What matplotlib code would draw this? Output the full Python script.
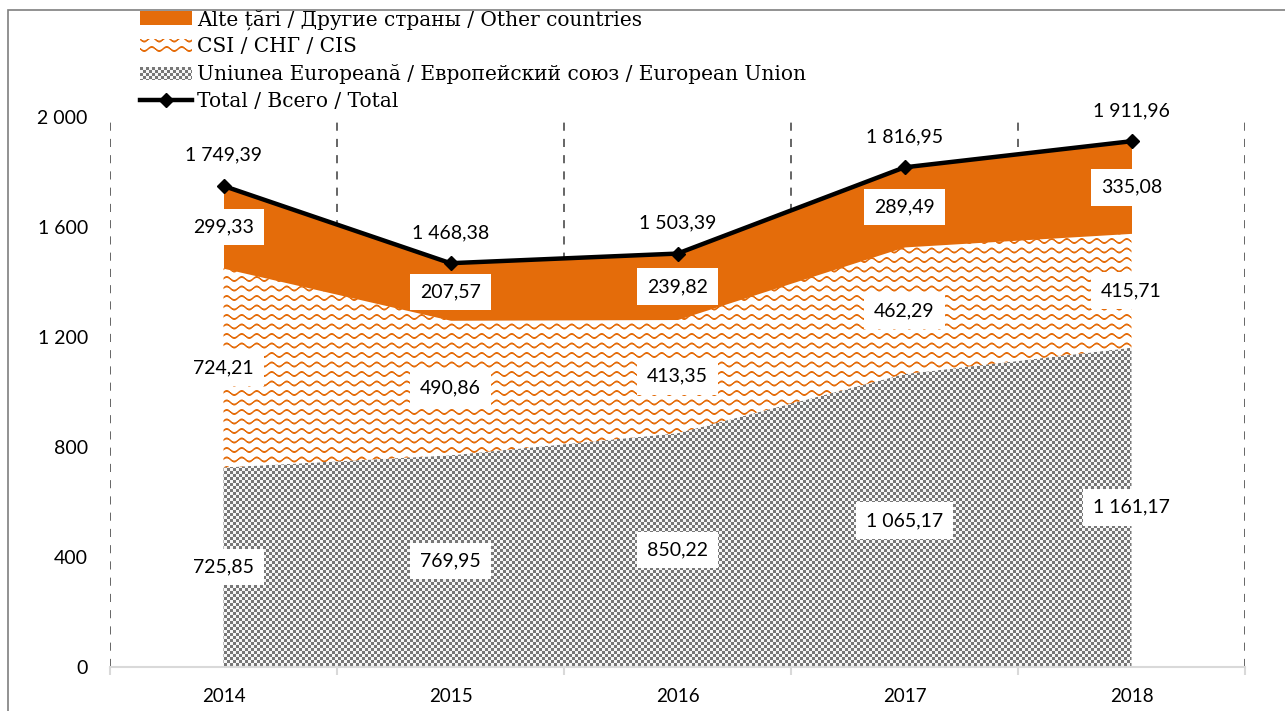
import numpy as np
import matplotlib
matplotlib.use("Agg")
import matplotlib.pyplot as plt
from matplotlib.patches import Patch, Rectangle, PathPatch
from matplotlib.lines import Line2D
from matplotlib.path import Path

years = ["2014", "2015", "2016", "2017", "2018"]
eu = [725.85, 769.95, 850.22, 1065.17, 1161.17]
cis = [724.21, 490.86, 413.35, 462.29, 415.71]
other = [299.33, 207.57, 239.82, 289.49, 335.08]
total = [1749.39, 1468.38, 1503.39, 1816.95, 1911.96]
yticks = [0, 400, 800, 1200, 1600, 2000]

legend_labels = [
    "Alte țări / Другие страны / Other countries",
    "CSI / СНГ / CIS",
    "Uniunea Europeană / Европейский союз / European Union",
    "Total / Всего / Total",
]

ORANGE = "#E46C0A"
W, H = 1285, 711
DPI = 100


def fmt(v):
    s = f"{v:,.2f}"
    s = s.replace(",", " ").replace(".", ",")
    return s


def checker(h, w, cell=3, dark=(0.47, 0.47, 0.47), light=(0.97, 0.97, 0.97)):
    y, x = np.mgrid[0:h, 0:w]
    m = ((x // cell + y // cell) % 2) == 0
    img = np.ones((h, w, 3))
    img[m] = dark
    img[~m] = light
    return img


def waves(h, w, period=15.0, spacing=9.5, amp=2.0):
    y, x = np.mgrid[0:h, 0:w].astype(float)
    yy = y - amp * np.sin(2 * np.pi * x / period)
    d = np.mod(yy, spacing)
    d = np.minimum(d, spacing - d)
    img = np.ones((h, w, 3))
    oc = np.array(matplotlib.colors.to_rgb(ORANGE))
    a = np.clip(1.5 - d, 0, 1)[..., None]
    img = img * (1 - a) + oc * a
    return img


fig = plt.figure(figsize=(W / DPI, H / DPI), dpi=DPI)
fig.patch.set_facecolor("white")

ax_l, ax_r, ax_b, ax_t = 110, 1245, 667, 117
ax = fig.add_axes([ax_l / W, 1 - ax_b / H, (ax_r - ax_l) / W, (ax_b - ax_t) / H])
ax.patch.set_alpha(0)

x = np.arange(len(years))
eu_a = np.array(eu)
cis_top = eu_a + np.array(cis)
oth_top = cis_top + np.array(other)

ax.set_xlim(-0.5, len(years) - 0.5)
ax.set_ylim(0, 2000)

# dashed category separators
for b in np.arange(-0.5, len(years), 1.0):
    ax.plot([b, b], [0, 2000], ls=(0, (4.5, 4.5)), color="#595959", lw=1.3, zorder=0.5)

axw, axh = ax_r - ax_l, ax_b - ax_t


def textured(lower, upper, tex):
    verts = list(zip(x, upper)) + list(zip(x[::-1], lower[::-1]))
    path = Path(verts + [verts[0]], closed=True)
    patch = PathPatch(path, facecolor="none", edgecolor="none", transform=ax.transData)
    ax.add_patch(patch)
    im = ax.imshow(tex, extent=(-0.5, len(years) - 0.5, 0, 2000), aspect="auto",
                   interpolation="nearest", zorder=1)
    im.set_clip_path(patch)


textured(np.zeros(len(x)), eu_a, checker(axh, axw))
textured(eu_a, cis_top, waves(axh, axw))
ax.fill_between(x, cis_top, oth_top, color=ORANGE, lw=0, zorder=1)

ax.plot(x, total, color="black", lw=3.2, marker="D", ms=7, zorder=3)

sans = "Lato"
box = dict(boxstyle="square,pad=0.5", fc="white", ec="none")
for i in range(len(x)):
    ax.text(x[i], eu[i] / 2, fmt(eu[i]), ha="center", va="center", fontsize=14,
            family=sans, bbox=box, zorder=4)
    ax.text(x[i], eu[i] + cis[i] / 2, fmt(cis[i]), ha="center", va="center", fontsize=14,
            family=sans, bbox=box, zorder=4)
    ax.text(x[i], cis_top[i] + other[i] / 2, fmt(other[i]), ha="center", va="center",
            fontsize=14, family=sans, bbox=box, zorder=4)
    ax.annotate(fmt(total[i]), (x[i], total[i]), xytext=(0, 22), textcoords="offset points",
                ha="center", va="center", fontsize=14, family=sans, zorder=4)

# axes styling
for s in ["left", "right", "top"]:
    ax.spines[s].set_visible(False)
ax.spines["bottom"].set_color("#d9d9d9")
ax.spines["bottom"].set_linewidth(1.5)
ax.set_xticks(np.arange(-0.5, len(years), 1.0))
ax.set_xticklabels([])
ax.tick_params(axis="x", which="major", length=6, width=1.5, color="#d9d9d9")
ax.set_xticks(x, minor=True)
ax.set_xticklabels(years, minor=True, fontsize=13.5, family=sans)
ax.tick_params(axis="x", which="minor", length=0, pad=15)
ax.set_yticks(yticks)
ax.set_yticklabels([fmt(v).split(",")[0] for v in yticks], fontsize=14, family=sans)
ax.tick_params(axis="y", length=0, pad=16)

# legend
handles = [
    Patch(facecolor=ORANGE, edgecolor="none"),
    Patch(facecolor="none", edgecolor="none"),
    Patch(facecolor="none", edgecolor="none"),
    Line2D([], [], color="black", lw=3.2, marker="D", ms=7),
]
leg = fig.legend(handles, legend_labels, loc="upper left",
                 bbox_to_anchor=(140 / W, 1 - 9 / H), frameon=False,
                 prop=dict(family="DejaVu Serif", size=14.5), handlelength=2.6,
                 handleheight=0.65, handletextpad=0.22, labelspacing=0.38,
                 borderpad=0, borderaxespad=0)

# figure border
fig.add_artist(Rectangle((8 / W, -0.1), 1.2, 1 - 10 / H + 0.1, transform=fig.transFigure,
                         fill=False, ec="#7f7f7f", lw=1.2))

fig.canvas.draw()
hs = leg.legend_handles
for idx, gen in [(1, waves), (2, checker)]:
    bb = hs[idx].get_window_extent()
    w_, h_ = int(round(bb.width)), int(round(bb.height))
    fig.figimage(gen(h_, w_), xo=int(round(bb.x0)), yo=int(round(bb.y0)), zorder=5)

fig.savefig("out.png", dpi=DPI, facecolor="white")
